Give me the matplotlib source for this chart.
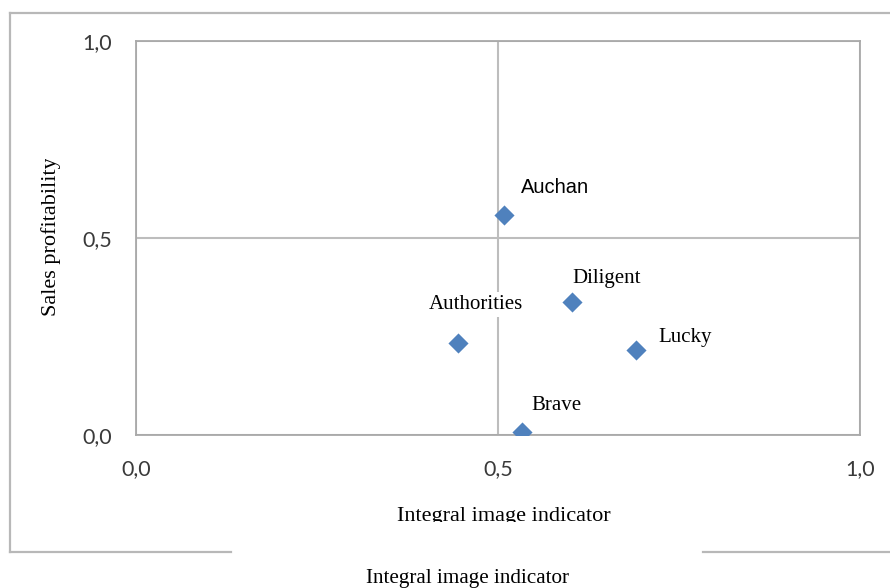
import matplotlib
matplotlib.use("Agg")
import matplotlib.pyplot as plt
from matplotlib.lines import Line2D
from matplotlib.transforms import Bbox, TransformedBbox

# data
names = ["Auchan", "Diligent", "Authorities", "Lucky", "Brave"]
image_indicator = [0.508, 0.602, 0.445, 0.691, 0.533]
profitability = [0.558, 0.337, 0.233, 0.216, 0.008]
tick_values = [0.0, 0.5, 1.0]
tick_labels = ["0,0", "0,5", "1,0"]

# label offsets in points (x right, y up)
offsets = {
    "Auchan": (37, 20),
    "Diligent": (25, 17),
    "Authorities": (13, 28),
    "Lucky": (35, 9),
    "Brave": (25, 19),
}

W, H = 890, 588
fig = plt.figure(figsize=(W / 100, H / 100), dpi=100)

ax = fig.add_axes([135.7 / W, 1 - 435 / H, 724.3 / W, 394 / H])
ax.set_xlim(0, 1)
ax.set_ylim(0, 1)
ax.set_xticks(tick_values)
ax.set_xticklabels(tick_labels)
ax.set_yticks(tick_values)
ax.set_yticklabels(tick_labels)
ax.tick_params(length=0, labelsize=15.5, labelcolor="#3a3a3a")
ax.tick_params(axis="y", pad=17)
ax.tick_params(axis="x", pad=17)
for lab in ax.get_xticklabels() + ax.get_yticklabels():
    lab.set_family("Lato")
for sp in ax.spines.values():
    sp.set_color("#a9a9a9")
    sp.set_linewidth(1.3)
ax.set_axisbelow(True)
ax.grid(True, color="#bdbdbd", linewidth=1.5)

ax.scatter(image_indicator, profitability, marker="D", s=105,
           color="#4F81BD", zorder=4, linewidths=0)

for name, x, y in zip(names, image_indicator, profitability):
    fam = "Liberation Sans" if name == "Auchan" else "Liberation Serif"
    size = 14.5 if name == "Auchan" else 15
    ax.annotate(name, (x, y), xytext=offsets[name], textcoords="offset points",
                ha="center", va="center", fontsize=size, family=fam,
                color="black", zorder=3,
                bbox=dict(facecolor="white", edgecolor="none", pad=2))

# outer frame with a gap at the bottom
frame = dict(color="#b8b8b8", linewidth=1.6, transform=fig.transFigure)
fig.add_artist(Line2D([10 / W, 10 / W], [1 - 551.5 / H, 1 - 13.3 / H], **frame))
fig.add_artist(Line2D([10 / W, 1.0], [1 - 13.3 / H, 1 - 13.3 / H], **frame))
fig.add_artist(Line2D([10 / W, 230.7 / W], [1 - 551.5 / H, 1 - 551.5 / H], **frame))
fig.add_artist(Line2D([703 / W, 1.0], [1 - 551.5 / H, 1 - 551.5 / H], **frame))

# axis titles, the inner one cut off like in the original
ylab = fig.text(51 / W, 1 - 237 / H, "Sales profitability", rotation=90,
                ha="center", va="center", fontsize=16, family="Liberation Serif")
ylab.set_clip_box(TransformedBbox(Bbox([[0, 0], [1, 1 - 159 / H]]), fig.transFigure))
ylab.set_clip_on(True)

xlab = fig.text(503.5 / W, 1 - 521 / H, "Integral image indicator",
                ha="center", va="baseline", fontsize=16, family="Liberation Serif")
xlab.set_clip_box(TransformedBbox(Bbox([[0, 1 - 521.5 / H], [1, 1]]), fig.transFigure))
xlab.set_clip_on(True)

fig.text(467.5 / W, 1 - 583 / H, "Integral image indicator",
         ha="center", va="baseline", fontsize=15.2, family="Liberation Serif")

fig.savefig("out.png", dpi=100)
